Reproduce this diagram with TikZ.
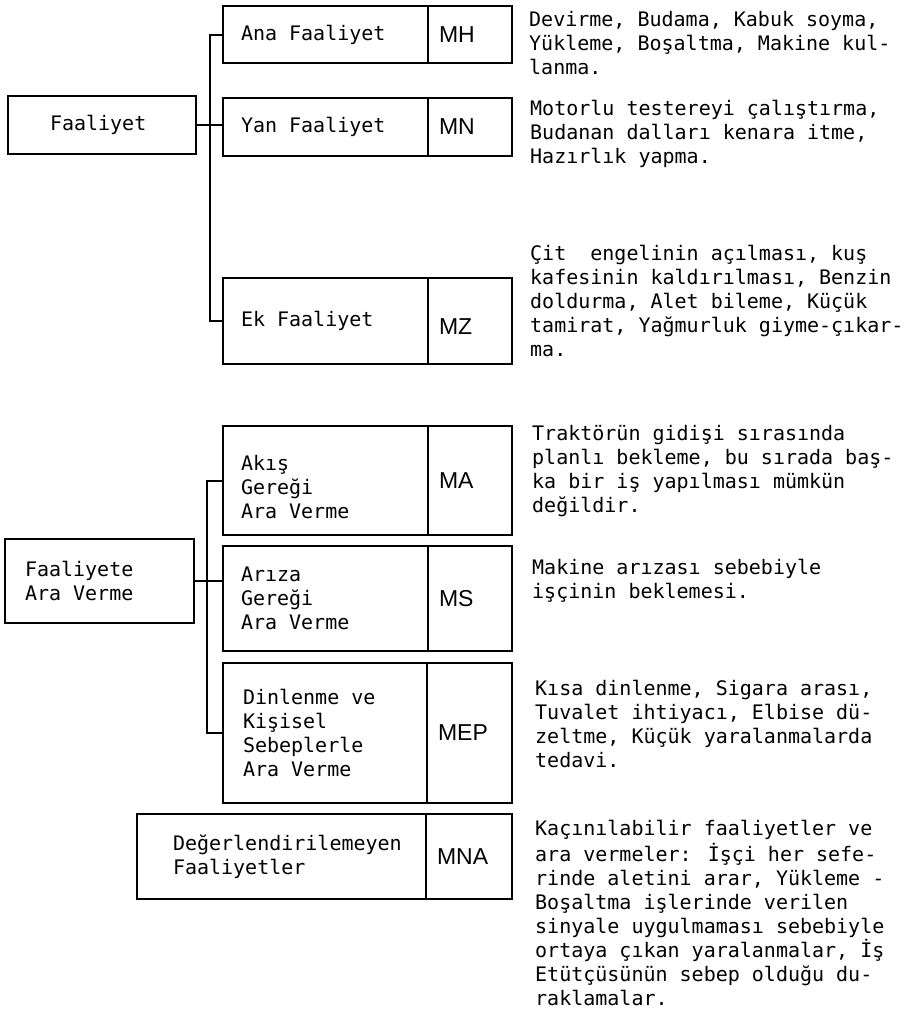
\documentclass[tikz,border=0pt]{standalone}
\usepackage{fontspec}
\newfontfamily\monof{DejaVu Sans Mono}
\newfontfamily\codef{Liberation Sans}
\hfuzz=60pt
\begin{document}
\begin{tikzpicture}[x=1pt,y=-1pt,
  mono/.style={font=\monof\fontsize{20}{24}\selectfont},
  namecell/.style={draw, line width=2pt, anchor=north west, inner ysep=0pt, inner xsep=18pt, align=flush left, mono},
  codecell/.style={draw, line width=2pt, anchor=north west, inner ysep=0pt, inner xsep=11pt, align=flush left,
    font=\codef\fontsize{23}{26}\selectfont},
  desc/.style={anchor=north west, inner sep=0pt, align=left, mono},
  conn/.style={line width=2pt}]
\useasboundingbox[fill=white] (0,0) rectangle (910,1013);

% ---------- upper group ----------
\node[namecell, inner xsep=42pt, minimum width=188pt, text width=104pt, minimum height=58pt] (f) at (7,95) {Faaliyet};

\node[namecell, minimum width=205pt, text width=169pt, minimum height=57pt] (ana) at (222,5) {Ana Faaliyet};
\node[codecell, minimum width=84pt, text width=62pt, minimum height=57pt] (mh) at (427,5) {MH};

\node[namecell, minimum width=205pt, text width=169pt, minimum height=58pt] (yan) at (222,97) {Yan Faaliyet};
\node[codecell, minimum width=84pt, text width=62pt, minimum height=58pt] (mn) at (427,97) {MN};

\node[namecell, minimum width=205pt, text width=169pt, minimum height=86pt] (ek) at (222,277) {Ek Faaliyet};
\node[codecell, minimum width=84pt, text width=62pt, minimum height=86pt] (mz) at (427,277) {\rule{0pt}{26pt}MZ};

\coordinate (s1) at (210,0);
\draw[conn] (ana.west) -- (ana.west -| s1) -- (ek.west -| s1) -- (ek.west);
\draw[conn] (f.east) -- (f.east -| yan.west);

% ---------- lower group ----------
\node[namecell, inner xsep=20pt, minimum width=189pt, text width=149pt, minimum height=84pt] (fa) at (4,538) {Faaliyete\\Ara Verme};

\node[namecell, minimum width=205pt, text width=169pt, minimum height=109pt] (akis) at (222,425) {\rule{0pt}{29pt}Akış\\Gereği\\Ara Verme};
\node[codecell, minimum width=84pt, text width=62pt, minimum height=109pt] (ma) at (427,425) {MA};

\node[namecell, minimum width=205pt, text width=169pt, minimum height=105pt] (ariza) at (222,545) {Arıza\\Gereği\\Ara Verme};
\node[codecell, minimum width=84pt, text width=62pt, minimum height=105pt] (ms) at (427,545) {MS};

\node[namecell, inner xsep=20pt, minimum width=204pt, text width=164pt, minimum height=140pt] (dinl) at (222,662) {Dinlenme ve\\Kişisel\\Sebeplerle\\Ara Verme};
\node[codecell, minimum width=85pt, text width=63pt, minimum height=140pt] (mep) at (426,662) {MEP};

\node[namecell, inner xsep=36pt, minimum width=289pt, text width=217pt, minimum height=85pt] (deg) at (136,813) {Değerlendirilemeyen\\Faaliyetler};
\node[codecell, minimum width=86pt, text width=64pt, minimum height=85pt] (mna) at (425,813) {MNA};

\coordinate (s2) at (207,0);
\draw[conn] (akis.west) -- (akis.west -| s2) -- (dinl.west -| s2) -- (dinl.west);
\draw[conn] (fa.east) -- (fa.east -| ariza.west);

% ---------- descriptions ----------
\node[desc] (d1) at (529,9) {\strut Devirme, Budama, Kabuk soyma,\\Yükleme, Boşaltma, Makine kul-\\lanma.};
\node[desc] (d2) at (530,98) {\strut Motorlu testereyi çalıştırma,\\Budanan dalları kenara itme,\\Hazırlık yapma.};
\node[desc] (d3) at (530,243) {\strut Çit\ \ engelinin açılması, kuş\\kafesinin kaldırılması, Benzin\\doldurma, Alet bileme, Küçük\\tamirat, Yağmurluk giyme-çıkar-\\ma.};
\node[desc] (d4) at (532,423) {\strut Traktörün gidişi sırasında\\planlı bekleme, bu sırada baş-\\ka bir iş yapılması mümkün\\değildir.};
\node[desc] (d5) at (532,557) {\strut Makine arızası sebebiyle\\işçinin beklemesi.};
\node[desc] (d6) at (535,678) {\strut Kısa dinlenme, Sigara arası,\\Tuvalet ihtiyacı, Elbise dü-\\zeltme, Küçük yaralanmalarda\\tedavi.};
\node[desc] (d7) at (535,818) {\strut Kaçınılabilir faaliyetler ve\\ara vermeler: İşçi her sefe-\\rinde aletini arar, Yükleme -\\Boşaltma işlerinde verilen\\sinyale uygulmaması sebebiyle\\ortaya çıkan yaralanmalar, İş\\Etütçüsünün sebep olduğu du-\\raklamalar.};
\end{tikzpicture}
\end{document}
